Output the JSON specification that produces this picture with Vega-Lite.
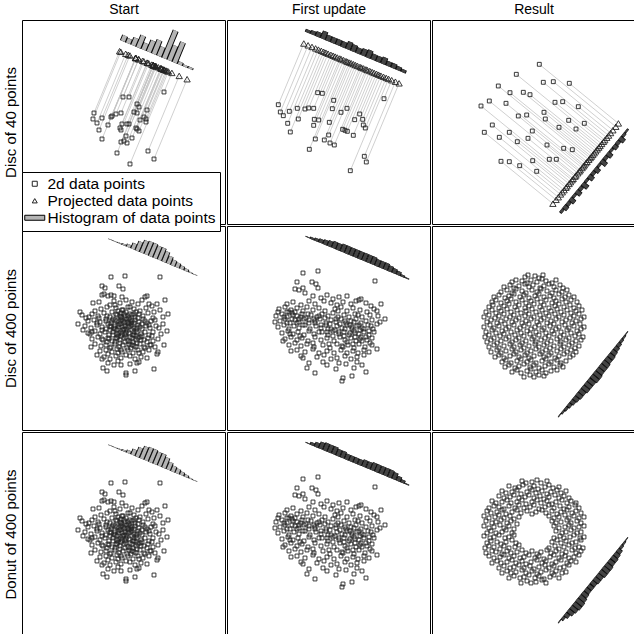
{
"$schema":"https://vega.github.io/schema/vega-lite/v6.json",
"padding":{"left":2,"top":1,"right":0,"bottom":0},
"spacing":0,
"config":{"font":"Liberation Sans","view":{"stroke":"black","strokeWidth":1},"concat":{"spacing":0},
"axis":{"domain":false,"ticks":false,"labels":false,"grid":false,"titleFontWeight":"normal","titleColor":"black"}},
"datasets":{
"S11":"x,y,px,py\n101,77,116.7,39.2\n107,77,121.8,41.3\n142,72,149.9,52.9\n115,84,131.1,45.1\n117,87,133.9,46.3\n112,92,131.5,45.3\n125,90,141.8,49.6\n115,93,134.2,46.4\n72,93,97.6,31.2\n71,99,98.8,31.8\n80,98,106.2,34.8\n75,103,103.7,33.8\n90,96,114.0,38.0\n94,94,116.7,39.2\n99,93,120.6,40.8\n89,97,113.5,37.9\n86,105,113.7,37.9\n100,104,125.5,42.8\n105,104,129.7,44.6\n107,104,131.4,45.2\n122,97,141.7,49.5\n124,99,144.0,50.5\n124,102,145.1,51.0\n77,110,107.9,35.5\n99,110,126.7,43.3\n114,108,138.8,48.3\n117,111,142.4,49.8\n115,109,140.0,48.8\n104,116,133.1,46.0\n80,119,113.6,37.9\n102,121,133.1,46.0\n99,122,130.9,45.1\n105,123,136.4,47.3\n95,133,131.5,45.3\n126,131,157.2,55.9\n132,139,165.1,59.2\n108,144,146.4,51.5\n98,108,125.1,42.6\n110,118,138.9,48.3\n118,100,139.3,48.5",
"H11":"x,y,x2,y2\n100.8,21.2,103.1,15.7\n106.0,23.4,107.9,18.8\n111.2,25.5,114.3,18.1\n116.3,27.7,121.3,15.7\n121.5,29.8,124.2,23.3\n126.7,31.9,131.3,20.8\n131.9,34.1,137.6,20.2\n137.0,36.2,140.8,27.0\n142.2,38.4,153.7,10.7\n147.4,40.5,153.5,25.7\n152.6,42.7,161.0,22.4\n157.7,44.8,158.9,42.0\n162.9,47.0,163.7,45.2\n168.1,49.1,168.9,47.3",
"S12":"x,y,px,py\n90.7,72.7,106.1,35.7\n95.3,73.3,110.3,37.5\n106.7,80.3,122.5,42.6\n157,78.7,164.7,60.2\n51.3,84.7,76.8,23.5\n53.3,92,81.1,25.3\n56.3,95.7,85.0,26.9\n62.3,91.3,88.6,28.4\n70.3,88.3,94.3,30.8\n78,89,101.1,33.7\n81.7,88,103.9,34.8\n86.7,88.3,108.2,36.6\n105.3,88.7,124.3,43.3\n114,92.3,133.0,46.9\n120,88.3,136.6,48.4\n132.7,94,149.5,53.8\n127.7,99.7,147.2,52.9\n135.7,99.3,153.9,55.7\n71.3,99,98.9,32.7\n87.3,99.3,112.8,38.5\n91.7,100,116.6,40.1\n102.3,102.3,126.5,44.2\n86.7,105.3,114.3,39.2\n60.7,103.3,91.4,29.6\n136.3,105,156.5,56.8\n138.3,108,159.2,57.9\n63.3,112,96.7,31.8\n115.7,109.3,140.4,50.1\n118,110.3,142.8,51.0\n120.3,111.3,145.1,52.0\n126.3,115.3,151.6,54.7\n101.7,115,130.5,45.9\n88.3,119,120.5,41.7\n97.3,120,128.5,45.1\n103,123,134.5,47.6\n107.3,125,138.9,49.4\n82.3,129.3,119.0,41.1\n137.3,136.3,168.4,61.7\n139.3,142,172.1,63.3\n123.3,150.7,161.6,58.9",
"H12":"x,y,x2,y2\n80.4,12.6,81.6,9.8\n85.5,14.7,87.0,11.0\n90.5,16.8,92.4,12.2\n95.6,18.9,98.7,11.5\n100.5,21.0,102.8,15.5\n105.6,23.1,107.9,17.6\n110.6,25.2,112.9,19.7\n115.7,27.3,118.0,21.8\n120.7,29.4,123.8,22.0\n125.7,31.5,128.4,25.0\n130.7,33.6,133.0,28.1\n135.8,35.7,138.5,29.2\n140.8,37.8,143.9,30.4\n145.9,39.9,148.2,34.4\n150.8,42.0,153.1,36.5\n155.9,44.1,158.6,37.6\n160.9,46.2,162.8,41.6\n166.0,48.3,167.9,43.7\n171.0,50.4,172.5,46.7\n176.0,52.5,177.2,49.7",
"S13":"x,y,px,py\n107.3,44.3,183.8,106.7\n84.3,54.3,169.7,123.9\n111.3,62.3,176.6,115.5\n121.3,61.7,180.9,110.2\n137.3,63.3,186.4,103.4\n66.3,66,156.8,139.7\n78,72.7,158.2,138.0\n91.3,72.3,163.7,131.3\n98,74.7,165.2,129.4\n49,86,140.1,160.2\n57.3,81,145.8,153.2\n74,83.3,151.4,146.4\n123,82.3,171.5,121.8\n130.7,81.7,174.8,117.7\n146.3,86.7,178.6,113.0\n86.3,96,150.1,148.0\n94.7,95,153.9,143.2\n112,92.3,162.2,133.2\n113.3,99,159.4,136.6\n136.7,100.3,168.1,125.9\n152.3,103.3,172.8,120.1\n60.3,105,135.2,166.2\n52.3,112.3,128.5,174.4\n77.3,112.3,138.5,162.1\n100.3,111,148.3,150.1\n127,107.3,160.8,134.9\n144,109,166.7,127.6\n67.3,117.3,132.1,170.1\n85.3,121.7,137.1,163.9\n96,118.3,143.0,156.6\n115,125,147.3,151.4\n131.7,128.3,152.4,145.1\n140.3,129.7,155.1,141.8\n69,141.3,120.9,183.7\n77.3,141.7,124.1,179.8\n87.7,145.7,126.3,177.2\n100.7,140.7,134.0,167.7\n117.3,139.3,141.2,158.8\n124.3,139.3,144.0,155.4\n104.7,151.3,130.3,172.2",
"H13":"x,y,x2,y2\n128.7,190.0,131.0,191.9\n131.8,186.1,135.7,189.3\n134.9,182.4,138.0,184.9\n138.0,178.6,142.7,182.4\n141.1,174.8,143.4,176.7\n144.2,171.0,148.9,174.8\n147.3,167.2,150.4,169.7\n150.4,163.4,155.8,167.8\n153.5,159.6,155.8,161.5\n156.6,155.8,161.3,159.6\n159.7,152.0,162.8,154.5\n162.8,148.2,167.4,152.0\n165.9,144.4,168.2,146.3\n169.0,140.6,174.4,145.0\n172.1,136.8,175.2,139.3\n175.2,133.0,179.8,136.8\n178.3,129.2,180.6,131.1\n181.4,125.4,185.3,128.6\n184.5,121.6,187.6,124.1\n187.6,117.8,192.3,121.6\n190.7,114.0,193.0,115.9\n193.8,110.2,195.4,111.5",
"H21":"x,y,x2,y2\n88.5,13.9,88.7,13.4\n93.0,15.8,93.2,15.3\n97.4,17.6,97.8,16.7\n101.8,19.4,102.4,18.0\n106.3,21.3,107.4,18.5\n110.7,23.1,113.0,17.6\n115.1,24.9,118.9,15.7\n119.6,26.8,124.6,14.8\n124.0,28.6,129.4,15.7\n128.4,30.5,133.8,17.6\n132.9,32.3,137.9,20.3\n137.3,34.1,142.3,22.1\n141.7,36.0,145.9,25.8\n146.2,37.8,149.3,30.4\n150.6,39.7,152.9,34.2\n155.0,41.5,156.9,36.9\n159.5,43.3,160.8,40.1\n163.9,45.2,164.9,42.9\n168.4,47.0,168.8,46.1\n172.8,48.9,173.0,48.4",
"H22":"x,y,x2,y2\n80.5,11.6,80.9,10.7\n84.8,13.4,85.6,11.6\n89.1,15.2,90.3,12.4\n93.4,16.9,94.9,13.2\n97.7,18.7,99.6,14.1\n102.0,20.5,104.3,15.0\n106.4,22.3,109.1,15.8\n110.6,24.1,113.3,17.6\n115.0,25.9,118.1,18.5\n119.3,27.7,122.4,20.3\n123.6,29.5,126.7,22.1\n127.9,31.3,131.0,23.9\n132.3,33.1,135.4,25.7\n136.5,34.8,139.6,27.4\n140.9,36.6,144.0,29.2\n145.2,38.4,148.3,31.0\n149.4,40.2,152.1,33.7\n153.8,42.0,156.5,35.5\n158.1,43.8,160.8,37.3\n162.4,45.6,164.7,40.1\n166.7,47.4,168.6,42.8\n171.1,49.2,172.6,45.5\n175.3,50.9,176.1,49.1\n179.7,52.7,180.1,51.8",
"H32":"x,y,x2,y2\n80.5,11.6,80.9,10.7\n84.8,13.4,85.9,10.6\n89.1,15.2,91.0,10.6\n93.4,16.9,96.1,10.4\n97.7,18.7,100.8,11.3\n102.0,20.5,105.1,13.1\n106.4,22.3,109.5,14.9\n110.6,24.1,113.3,17.6\n115.0,25.9,117.7,19.4\n119.3,27.7,121.6,22.2\n123.6,29.5,125.9,24.0\n127.9,31.3,130.2,25.8\n132.3,33.1,134.6,27.6\n136.5,34.8,139.2,28.3\n140.9,36.6,143.6,30.1\n145.2,38.4,148.3,31.0\n149.4,40.2,152.5,32.8\n153.8,42.0,156.9,34.6\n158.1,43.8,161.2,36.4\n162.4,45.6,165.5,38.2\n166.7,47.4,169.4,40.9\n171.1,49.2,173.0,44.6\n175.3,50.9,176.5,48.1\n179.7,52.7,180.1,51.8",
"H23":"x,y,x2,y2\n127.2,188.9,128.0,189.5\n130.1,185.4,131.7,186.7\n133.0,181.8,135.3,183.7\n135.9,178.2,139.0,180.7\n138.8,174.7,142.7,177.9\n141.7,171.1,146.4,174.9\n144.6,167.5,150.0,171.9\n147.5,164.0,152.9,168.4\n150.4,160.4,156.6,165.5\n153.4,156.8,159.6,161.9\n156.3,153.3,162.5,158.4\n159.2,149.7,166.2,155.4\n162.1,146.1,169.1,151.8\n165.0,142.6,171.2,147.7\n167.9,139.0,174.1,144.1\n170.8,135.4,177.0,140.5\n173.7,131.9,179.1,136.3\n176.7,128.3,182.1,132.7\n179.6,124.7,184.3,128.5\n182.5,121.2,186.4,124.4\n185.4,117.6,188.5,120.1\n188.3,114.0,190.6,115.9\n191.2,110.5,192.8,111.8\n194.1,106.9,194.9,107.5",
"H33":"x,y,x2,y2\n127.2,188.9,128.0,189.5\n130.1,185.4,132.4,187.3\n133.0,181.8,136.9,185.0\n135.9,178.2,141.3,182.6\n138.8,174.7,145.0,179.8\n141.7,171.1,148.7,176.8\n144.6,167.5,151.6,173.2\n147.5,164.0,153.7,169.1\n150.4,160.4,155.8,164.8\n153.4,156.8,158.1,160.6\n156.3,153.3,161.0,157.1\n159.2,149.7,163.9,153.5\n162.1,146.1,167.5,150.5\n165.0,142.6,170.4,147.0\n167.9,139.0,174.1,144.1\n170.8,135.4,177.0,140.5\n173.7,131.9,179.9,137.0\n176.7,128.3,182.1,132.7\n179.6,124.7,185.0,129.1\n182.5,121.2,187.2,125.0\n185.4,117.6,189.3,120.8\n188.3,114.0,190.6,115.9\n191.2,110.5,192.8,111.8\n194.1,106.9,194.9,107.5",
"A":"x,y\n89,51\n103,50\n138,51\n80,60\n83,62\n97,60\n101,63\n82,68\n89,69\n86,70\n80,69\n92,70\n100,71\n125,70\n123,71\n143,74\n71,77\n77,76\n135,78\n127,78\n58,86\n60,89\n64,92\n56,98\n61,104\n70,106\n68,108\n69,121\n75,129\n80,133\n81,142\n85,145\n99,139\n104,149\n104,147\n113,145\n115,137\n132,143\n125,132\n135,128\n142,119\n136,126\n145,105\n141,98\n137,102\n146,88\n141,91\n138,84\n132,86\n92,75\n98,77\n104,74\n110,76\n116,78\n88,79\n120,74\n79,83\n85,81\n94,82\n100,84\n106,81\n112,83\n118,85\n124,82\n130,80\n73,85\n90,86\n70,88\n76,90\n82,87\n88,91\n95,89\n99,87\n103,90\n108,88\n113,91\n117,88\n121,90\n126,87\n131,92\n67,91\n100,92\n66,95\n72,94\n78,96\n84,93\n89,97\n93,94\n97,96\n101,95\n105,93\n109,97\n113,94\n117,96\n121,93\n125,97\n129,95\n133,94\n86,98\n107,98\n63,100\n69,102\n75,99\n80,101\n84,103\n88,100\n92,102\n96,99\n100,101\n104,103\n108,100\n112,102\n116,99\n120,103\n124,100\n128,102\n134,100\n139,108\n95,104\n110,104\n66,107\n73,105\n78,108\n83,106\n87,109\n91,106\n95,108\n99,106\n103,109\n107,107\n111,109\n115,106\n119,108\n123,106\n127,109\n131,106\n99,110\n114,110\n70,113\n76,111\n81,114\n86,112\n90,115\n94,112\n98,114\n102,112\n106,115\n110,112\n114,114\n118,111\n122,114\n126,112\n131,115\n136,113\n85,116\n108,116\n73,118\n79,120\n84,119\n89,121\n93,118\n97,121\n101,119\n105,122\n110,119\n114,121\n118,118\n122,121\n128,119\n133,121\n78,125\n84,124\n90,126\n95,123\n100,126\n106,124\n111,127\n116,124\n121,126\n127,124\n86,128\n82,131\n88,133\n94,130\n99,132\n108,130\n113,133\n119,131\n96,135\n86,137\n92,139\n117,136\n108,138\n98,98\n102,97\n106,96\n101,104\n97,107\n105,105\n93,100\n110,95\n90,95\n103,100\n99,91\n107,92\n95,112\n104,111\n112,106\n88,104\n115,102\n96,85\n104,86\n112,88\n94,88\n98,90\n102,88\n106,90\n110,89\n91,93\n95,95\n99,94\n103,96\n108,94\n112,97\n116,92\n89,101\n93,103\n97,101\n102,103\n106,101\n110,99\n114,104\n118,101\n91,109\n96,110\n100,108\n104,107\n108,111\n112,109\n116,112\n120,110\n87,113\n93,116\n98,117\n103,116\n107,118\n111,116\n115,117\n119,114\n84,95\n80,104\n77,92\n123,95\n127,99\n125,116\n123,122\n88,122\n117,127\n104,129\n96,127\n109,122\n85,90\n120,98\n101,84\n93,79\n108,81\n114,86\n80,113\n75,97\n130,110\n129,119\n99,124\n112,120",
"B":"x,y\n76,47\n91,45\n70,56\n85,56\n89,58\n91,62\n148,55\n68,63\n72,64\n76,62\n78,67\n154,78\n158,93\n153,96\n150,123\n145,119\n139,146\n135,139\n127,142\n125,150\n116,152\n115,155\n109,143\n88,147\n80,142\n82,137\n76,132\n64,125\n56,115\n48,96\n51,86\n147,83\n134,73\n132,74\n129,75\n86,70\n94,72\n100,69\n106,73\n112,71\n120,70\n97,75\n60,78\n66,76\n74,79\n82,75\n88,78\n104,77\n110,79\n116,76\n124,78\n139,77\n144,80\n52,83\n58,81\n64,84\n70,82\n76,85\n80,81\n86,84\n92,82\n98,85\n108,83\n114,81\n120,85\n126,82\n133,84\n140,86\n150,85\n49,90\n55,88\n60,91\n65,87\n70,90\n75,88\n79,92\n84,89\n90,91\n95,88\n101,90\n106,87\n111,91\n117,89\n122,91\n128,88\n135,91\n143,89\n151,90\n53,95\n58,93\n63,97\n68,94\n72,96\n77,93\n82,97\n88,95\n93,93\n99,97\n104,94\n109,96\n114,93\n119,97\n124,95\n129,93\n134,97\n139,95\n145,94\n150,98\n51,101\n57,99\n62,103\n67,100\n72,102\n78,99\n83,103\n89,100\n94,102\n99,99\n104,103\n110,100\n115,102\n120,99\n125,103\n130,100\n135,102\n141,99\n146,103\n60,97\n108,104\n55,107\n61,105\n66,108\n71,106\n77,109\n82,105\n87,108\n95,106\n101,109\n106,105\n112,108\n117,106\n122,109\n127,105\n132,108\n137,106\n142,109\n147,106\n125,101\n58,113\n64,111\n70,114\n75,112\n81,115\n88,111\n94,114\n100,112\n107,115\n113,111\n118,114\n124,112\n129,115\n134,111\n140,114\n145,112\n120,116\n62,119\n68,117\n74,120\n80,118\n87,121\n96,119\n103,122\n110,118\n116,121\n121,119\n127,122\n132,118\n138,121\n143,117\n135,115\n70,124\n78,126\n86,123\n92,127\n100,125\n107,127\n114,124\n120,127\n126,125\n131,127\n137,124\n142,126\n74,130\n90,131\n97,129\n104,133\n118,130\n124,133\n130,131\n137,129\n110,132\n96,136\n112,137\n119,138\n130,136\n100,139\n66,89\n72,93\n62,86\n128,107\n133,104\n118,103\n101,103\n92,106\n60,86\n68,86\n74,91\n81,88\n87,93\n92,90\n98,92\n103,98\n109,93\n113,98\n118,95\n123,99\n127,96\n132,99\n137,103\n142,105\n128,111\n133,113\n123,107\n117,110\n112,106\n106,110\n100,106\n94,99\n88,97\n82,94\n76,99\n70,97\n65,93\n57,91\n63,108\n73,110\n86,117\n102,118\n115,120\n126,118\n139,111\n144,100\n131,89\n111,85",
"C":"x,y\n93,51\n96,49\n103,50\n107,52\n111,49\n80,56\n84,54\n90,55\n95,57\n99,54\n105,56\n110,53\n114,55\n120,57\n124,54\n72,61\n78,59\n82,62\n87,60\n93,58\n97,61\n101,59\n108,62\n112,60\n117,58\n122,61\n128,59\n131,62\n69,66\n75,64\n80,67\n84,63\n90,65\n94,67\n100,64\n105,66\n109,63\n115,65\n120,67\n124,64\n130,66\n135,64\n62,71\n67,69\n73,72\n77,70\n82,68\n88,71\n92,69\n97,72\n103,70\n107,68\n112,71\n118,70\n122,72\n127,68\n133,71\n137,69\n142,71\n60,76\n64,74\n69,77\n75,75\n79,73\n84,76\n90,74\n94,77\n99,75\n105,73\n109,76\n114,74\n120,77\n124,75\n130,73\n134,76\n139,74\n145,76\n57,81\n61,79\n67,82\n72,80\n77,78\n83,81\n87,79\n93,82\n97,80\n102,78\n108,81\n112,79\n117,82\n123,80\n127,78\n132,81\n138,79\n142,82\n147,80\n54,86\n60,84\n64,87\n69,85\n75,83\n79,86\n85,84\n89,87\n94,85\n100,83\n104,86\n110,84\n114,87\n119,85\n125,83\n129,86\n135,84\n139,87\n144,85\n150,84\n52,91\n57,89\n63,92\n67,90\n72,88\n78,91\n82,89\n87,92\n93,90\n97,88\n102,91\n108,89\n112,92\n117,90\n123,88\n127,91\n132,89\n138,92\n142,90\n147,88\n152,91\n55,96\n59,94\n65,97\n69,95\n74,93\n80,96\n84,94\n90,97\n94,95\n99,93\n105,96\n109,94\n115,97\n119,95\n124,93\n130,96\n134,94\n140,97\n144,95\n149,93\n52,101\n58,99\n62,102\n67,100\n73,98\n77,101\n82,99\n88,102\n92,100\n97,98\n103,101\n107,99\n112,102\n118,100\n122,98\n127,101\n133,99\n137,102\n142,100\n148,98\n152,101\n54,106\n60,104\n64,107\n70,105\n74,103\n79,106\n85,104\n89,107\n95,105\n99,103\n104,106\n110,104\n114,107\n120,105\n124,103\n129,106\n135,104\n139,107\n145,105\n149,103\n53,111\n57,109\n62,112\n68,110\n72,108\n77,111\n83,109\n87,112\n92,110\n98,108\n102,111\n107,109\n113,112\n117,110\n122,108\n128,111\n132,109\n137,112\n143,110\n147,108\n151,111\n55,116\n59,114\n65,117\n69,115\n74,113\n80,116\n84,114\n90,117\n94,115\n100,113\n104,116\n109,114\n115,117\n119,115\n125,113\n129,116\n134,114\n140,117\n144,115\n149,114\n57,121\n62,119\n67,122\n72,120\n78,118\n82,121\n88,119\n92,122\n97,120\n103,118\n107,121\n112,119\n118,122\n122,120\n128,118\n132,121\n137,119\n143,122\n147,120\n59,126\n65,124\n69,127\n74,125\n80,123\n84,126\n89,124\n95,127\n99,125\n104,123\n110,126\n114,124\n119,127\n125,125\n129,123\n135,126\n139,124\n144,126\n63,131\n67,129\n72,132\n78,130\n82,128\n87,131\n93,129\n97,132\n102,130\n108,128\n112,131\n117,129\n123,132\n127,130\n132,128\n138,131\n141,129\n70,136\n74,134\n79,137\n85,135\n89,133\n95,136\n99,134\n104,137\n110,135\n114,133\n119,136\n125,134\n129,137\n134,135\n73,141\n77,139\n83,142\n87,140\n92,138\n98,141\n102,139\n107,142\n113,140\n117,138\n122,141\n128,139\n131,141\n80,146\n85,144\n89,147\n95,145\n99,143\n104,146\n110,144\n114,147\n119,145\n125,144\n92,151\n98,149\n102,151\n107,149\n112,150",
"D":"x,y\n90,49\n94,51\n100,50\n105,48\n109,51\n115,49\n77,54\n83,56\n87,55\n91,53\n98,56\n102,54\n106,57\n113,55\n117,53\n121,56\n127,55\n70,59\n74,61\n80,60\n85,58\n89,62\n95,60\n100,58\n104,61\n110,59\n115,62\n119,60\n125,58\n129,61\n134,59\n67,64\n72,66\n78,65\n82,63\n87,66\n93,65\n97,63\n102,66\n108,64\n112,67\n117,65\n123,63\n127,66\n132,64\n137,66\n60,69\n64,71\n70,70\n75,68\n79,71\n85,70\n90,68\n94,72\n100,70\n105,68\n109,71\n115,69\n120,72\n124,70\n130,68\n135,71\n139,69\n144,71\n57,76\n62,74\n67,75\n72,77\n77,74\n83,76\n87,73\n92,76\n98,75\n102,73\n107,77\n113,75\n117,73\n122,76\n128,74\n132,77\n137,75\n143,73\n147,76\n55,79\n59,81\n65,80\n70,78\n74,82\n80,80\n85,78\n89,81\n95,79\n100,82\n104,80\n110,78\n114,81\n120,79\n125,82\n129,80\n135,78\n140,81\n144,79\n149,81\n52,84\n57,86\n63,85\n67,83\n72,86\n78,84\n82,87\n87,85\n117,84\n122,86\n127,85\n133,83\n137,86\n142,84\n147,86\n152,85\n54,89\n60,91\n64,90\n69,88\n75,91\n79,89\n85,92\n120,89\n124,91\n129,90\n135,88\n139,91\n145,89\n149,91\n52,94\n57,96\n62,95\n68,93\n72,96\n77,94\n82,97\n122,94\n127,96\n133,95\n137,93\n142,96\n147,95\n152,94\n55,101\n59,99\n64,101\n70,100\n74,98\n80,101\n124,99\n130,101\n134,100\n139,98\n145,101\n149,100\n52,104\n58,106\n62,105\n67,103\n73,106\n77,105\n82,103\n122,106\n128,104\n132,106\n138,105\n142,103\n148,106\n152,105\n55,111\n59,109\n65,110\n69,112\n74,110\n80,108\n84,111\n120,110\n125,108\n129,111\n134,109\n140,111\n144,110\n149,108\n53,116\n57,114\n62,115\n68,117\n72,114\n77,116\n83,115\n87,113\n117,116\n123,114\n127,117\n132,115\n137,113\n143,116\n147,115\n151,116\n54,121\n60,119\n64,120\n70,122\n75,119\n79,121\n85,120\n90,118\n94,121\n100,119\n105,122\n109,120\n115,118\n119,121\n124,119\n130,122\n134,120\n140,118\n144,121\n149,119\n57,124\n62,126\n68,125\n72,123\n77,126\n82,124\n88,126\n92,125\n97,123\n103,126\n107,124\n112,127\n118,125\n122,123\n127,126\n133,124\n137,126\n142,125\n147,123\n60,131\n65,129\n69,131\n75,130\n80,128\n84,131\n90,129\n94,132\n99,130\n105,128\n110,131\n114,129\n120,132\n124,130\n129,128\n135,131\n139,129\n144,130\n67,136\n72,134\n78,136\n82,135\n87,133\n92,136\n98,134\n102,137\n107,135\n113,133\n117,136\n122,134\n128,136\n132,135\n137,133\n70,141\n75,139\n79,141\n84,140\n90,138\n94,141\n100,139\n105,142\n109,140\n114,138\n120,141\n124,139\n130,141\n134,140\n77,146\n82,144\n88,146\n92,145\n97,143\n103,146\n107,144\n112,147\n118,145\n122,143\n127,146\n89,151\n95,149\n99,151\n104,150\n110,148\n114,151"
},
"vconcat":[
{"spacing":0,"hconcat":[
{"width":203,"height":204,
"data":{"name":"S11","format":{"type":"csv","parse":{"x":"number","y":"number","px":"number","py":"number"}}},
"encoding":{"x":{"field":"x","type":"quantitative","scale":{"domain":[0,203]},"axis":{"orient":"top","title":"Start","titleFontSize":14,"titlePadding":4}},
"y":{"field":"y","type":"quantitative","scale":{"domain":[0,204],"reverse":true},"axis":{"title":"Disc of 40 points","titleFontSize":15,"titlePadding":4}}},
"layer":[
{"mark":{"type":"rule","stroke":"#c4c4c4","strokeWidth":0.8},"encoding":{"x2":{"field":"px"},"y2":{"field":"py"}}},
{"mark":{"type":"point","filled":false,"size":15,"strokeWidth":0.9,"opacity":1},
"encoding":{"shape":{"datum":"2d data points","type":"nominal","scale":{"domain":["2d data points","Projected data points","Histogram of data points"],"range":["square","triangle-up","M-4,-1H4V1H-4Z"]},
"legend":{"orient":"none","legendX":0,"legendY":152,"title":null,"padding":4,"strokeColor":"black","fillColor":"white","labelFontSize":15.5,"labelColor":"black","labelLimit":0,"symbolSize":25,"symbolStrokeWidth":1,"symbolOffset":1,"labelOffset":5,"rowPadding":0}},
"fill":{"datum":"2d data points","type":"nominal","scale":{"domain":["2d data points","Projected data points","Histogram of data points"],"range":["transparent","transparent","#b4b4b4"]},
"legend":{"orient":"none","legendX":0,"legendY":152,"title":null,"padding":4,"strokeColor":"black","fillColor":"white","labelFontSize":15.5,"labelColor":"black","labelLimit":0,"symbolSize":25,"symbolStrokeWidth":1,"symbolOffset":1,"labelOffset":5,"rowPadding":0}},
"stroke":{"datum":"2d data points","type":"nominal","scale":{"domain":["2d data points","Projected data points","Histogram of data points"],"range":["#222222","#222222","#000000"]},
"legend":{"orient":"none","legendX":0,"legendY":152,"title":null,"padding":4,"strokeColor":"black","fillColor":"white","labelFontSize":15.5,"labelColor":"black","labelLimit":0,"symbolSize":25,"symbolStrokeWidth":1,"symbolOffset":1,"labelOffset":5,"rowPadding":0}}}},
{"mark":{"type":"point","filled":false,"size":40,"strokeWidth":0.9,"opacity":1},
"encoding":{"x":{"field":"px","type":"quantitative","scale":{"domain":[0,203]},"axis":{"orient":"top","title":"Start","titleFontSize":14,"titlePadding":4}},"y":{"field":"py","type":"quantitative","scale":{"domain":[0,204],"reverse":true},"axis":{"title":"Disc of 40 points","titleFontSize":15,"titlePadding":4}},"shape":{"datum":"Projected data points","type":"nominal"},"fill":{"datum":"Projected data points","type":"nominal"},"stroke":{"datum":"Projected data points","type":"nominal"}}},
{"data":{"name":"H11","format":{"type":"csv","parse":{"x":"number","y":"number","x2":"number","y2":"number"}}},"mark":{"type":"rule","stroke":"black","strokeWidth":6.2},"encoding":{"x2":{"field":"x2"},"y2":{"field":"y2"}}},
{"data":{"name":"H11","format":{"type":"csv","parse":{"x":"number","y":"number","x2":"number","y2":"number"}}},"mark":{"type":"rule","stroke":"#b4b4b4","strokeWidth":4.4},"encoding":{"x2":{"field":"x2"},"y2":{"field":"y2"}}}
]},
{"width":203,"height":204,
"data":{"name":"S12","format":{"type":"csv","parse":{"x":"number","y":"number","px":"number","py":"number"}}},
"encoding":{"x":{"field":"x","type":"quantitative","scale":{"domain":[0,203]},"axis":{"orient":"top","title":"First update","titleFontSize":14,"titlePadding":4}},
"y":{"field":"y","type":"quantitative","scale":{"domain":[0,204],"reverse":true},"axis":null}},
"layer":[
{"mark":{"type":"rule","stroke":"#c4c4c4","strokeWidth":0.8},"encoding":{"x2":{"field":"px"},"y2":{"field":"py"}}},
{"mark":{"type":"point","shape":"square","filled":false,"size":15,"stroke":"#222","strokeWidth":0.9,"opacity":1}},
{"mark":{"type":"point","shape":"triangle-up","filled":false,"size":40,"stroke":"#222","strokeWidth":0.9,"opacity":1},
"encoding":{"x":{"field":"px","type":"quantitative","scale":{"domain":[0,203]},"axis":{"orient":"top","title":"First update","titleFontSize":14,"titlePadding":4}},"y":{"field":"py","type":"quantitative","scale":{"domain":[0,204],"reverse":true},"axis":null}}},
{"data":{"name":"H12","format":{"type":"csv","parse":{"x":"number","y":"number","x2":"number","y2":"number"}}},"mark":{"type":"rule","stroke":"black","strokeWidth":5.8},"encoding":{"x2":{"field":"x2"},"y2":{"field":"y2"}}},
{"data":{"name":"H12","format":{"type":"csv","parse":{"x":"number","y":"number","x2":"number","y2":"number"}}},"mark":{"type":"rule","stroke":"#444444","strokeWidth":4.3},"encoding":{"x2":{"field":"x2"},"y2":{"field":"y2"}}}
]},
{"width":203,"height":204,
"data":{"name":"S13","format":{"type":"csv","parse":{"x":"number","y":"number","px":"number","py":"number"}}},
"encoding":{"x":{"field":"x","type":"quantitative","scale":{"domain":[0,203]},"axis":{"orient":"top","title":"Result","titleFontSize":14,"titlePadding":4}},
"y":{"field":"y","type":"quantitative","scale":{"domain":[0,204],"reverse":true},"axis":null}},
"layer":[
{"mark":{"type":"rule","stroke":"#c4c4c4","strokeWidth":0.8},"encoding":{"x2":{"field":"px"},"y2":{"field":"py"}}},
{"mark":{"type":"point","shape":"square","filled":false,"size":15,"stroke":"#222","strokeWidth":0.9,"opacity":1}},
{"mark":{"type":"point","shape":"triangle-up","filled":false,"size":40,"stroke":"#222","strokeWidth":0.9,"opacity":1},
"encoding":{"x":{"field":"px","type":"quantitative","scale":{"domain":[0,203]},"axis":{"orient":"top","title":"Result","titleFontSize":14,"titlePadding":4}},"y":{"field":"py","type":"quantitative","scale":{"domain":[0,204],"reverse":true},"axis":null}}},
{"data":{"name":"H13","format":{"type":"csv","parse":{"x":"number","y":"number","x2":"number","y2":"number"}}},"mark":{"type":"rule","stroke":"black","strokeWidth":5.2},"encoding":{"x2":{"field":"x2"},"y2":{"field":"y2"}}},
{"data":{"name":"H13","format":{"type":"csv","parse":{"x":"number","y":"number","x2":"number","y2":"number"}}},"mark":{"type":"rule","stroke":"#444444","strokeWidth":3.8},"encoding":{"x2":{"field":"x2"},"y2":{"field":"y2"}}}
]}
]},
{"spacing":0,"hconcat":[
{"width":203,"height":204,
"data":{"name":"A","format":{"type":"csv","parse":{"x":"number","y":"number"}}},
"encoding":{"x":{"field":"x","type":"quantitative","scale":{"domain":[0,203]},"axis":null},
"y":{"field":"y","type":"quantitative","scale":{"domain":[0,204],"reverse":true},"axis":{"title":"Disc of 400 points","titleFontSize":15,"titlePadding":4}}},
"layer":[
{"mark":{"type":"point","shape":"square","filled":false,"size":15,"stroke":"#222","strokeWidth":0.9,"opacity":1}},
{"data":{"name":"H21","format":{"type":"csv","parse":{"x":"number","y":"number","x2":"number","y2":"number"}}},"mark":{"type":"rule","stroke":"black","strokeWidth":5.2},"encoding":{"x2":{"field":"x2"},"y2":{"field":"y2"}}},
{"data":{"name":"H21","format":{"type":"csv","parse":{"x":"number","y":"number","x2":"number","y2":"number"}}},"mark":{"type":"rule","stroke":"#b4b4b4","strokeWidth":3.6},"encoding":{"x2":{"field":"x2"},"y2":{"field":"y2"}}}
]},
{"width":203,"height":204,
"data":{"name":"B","format":{"type":"csv","parse":{"x":"number","y":"number"}}},
"encoding":{"x":{"field":"x","type":"quantitative","scale":{"domain":[0,203]},"axis":null},
"y":{"field":"y","type":"quantitative","scale":{"domain":[0,204],"reverse":true},"axis":null}},
"layer":[
{"mark":{"type":"point","shape":"square","filled":false,"size":15,"stroke":"#222","strokeWidth":0.9,"opacity":1}},
{"data":{"name":"H22","format":{"type":"csv","parse":{"x":"number","y":"number","x2":"number","y2":"number"}}},"mark":{"type":"rule","stroke":"black","strokeWidth":5.0},"encoding":{"x2":{"field":"x2"},"y2":{"field":"y2"}}},
{"data":{"name":"H22","format":{"type":"csv","parse":{"x":"number","y":"number","x2":"number","y2":"number"}}},"mark":{"type":"rule","stroke":"#444444","strokeWidth":3.6},"encoding":{"x2":{"field":"x2"},"y2":{"field":"y2"}}}
]},
{"width":203,"height":204,
"data":{"name":"C","format":{"type":"csv","parse":{"x":"number","y":"number"}}},
"encoding":{"x":{"field":"x","type":"quantitative","scale":{"domain":[0,203]},"axis":null},
"y":{"field":"y","type":"quantitative","scale":{"domain":[0,204],"reverse":true},"axis":null}},
"layer":[
{"mark":{"type":"point","shape":"square","filled":false,"size":15,"stroke":"#222","strokeWidth":0.9,"opacity":1}},
{"data":{"name":"H23","format":{"type":"csv","parse":{"x":"number","y":"number","x2":"number","y2":"number"}}},"mark":{"type":"rule","stroke":"black","strokeWidth":5.0},"encoding":{"x2":{"field":"x2"},"y2":{"field":"y2"}}},
{"data":{"name":"H23","format":{"type":"csv","parse":{"x":"number","y":"number","x2":"number","y2":"number"}}},"mark":{"type":"rule","stroke":"#444444","strokeWidth":3.6},"encoding":{"x2":{"field":"x2"},"y2":{"field":"y2"}}}
]}
]},
{"spacing":0,"hconcat":[
{"width":203,"height":204,
"data":{"name":"A","format":{"type":"csv","parse":{"x":"number","y":"number"}}},
"encoding":{"x":{"field":"x","type":"quantitative","scale":{"domain":[0,203]},"axis":null},
"y":{"field":"y","type":"quantitative","scale":{"domain":[0,204],"reverse":true},"axis":{"title":"Donut of 400 points","titleFontSize":15,"titlePadding":4}}},
"layer":[
{"mark":{"type":"point","shape":"square","filled":false,"size":15,"stroke":"#222","strokeWidth":0.9,"opacity":1}},
{"data":{"name":"H21","format":{"type":"csv","parse":{"x":"number","y":"number","x2":"number","y2":"number"}}},"mark":{"type":"rule","stroke":"black","strokeWidth":5.2},"encoding":{"x2":{"field":"x2"},"y2":{"field":"y2"}}},
{"data":{"name":"H21","format":{"type":"csv","parse":{"x":"number","y":"number","x2":"number","y2":"number"}}},"mark":{"type":"rule","stroke":"#b4b4b4","strokeWidth":3.6},"encoding":{"x2":{"field":"x2"},"y2":{"field":"y2"}}}
]},
{"width":203,"height":204,
"data":{"name":"B","format":{"type":"csv","parse":{"x":"number","y":"number"}}},
"encoding":{"x":{"field":"x","type":"quantitative","scale":{"domain":[0,203]},"axis":null},
"y":{"field":"y","type":"quantitative","scale":{"domain":[0,204],"reverse":true},"axis":null}},
"layer":[
{"mark":{"type":"point","shape":"square","filled":false,"size":15,"stroke":"#222","strokeWidth":0.9,"opacity":1}},
{"data":{"name":"H32","format":{"type":"csv","parse":{"x":"number","y":"number","x2":"number","y2":"number"}}},"mark":{"type":"rule","stroke":"black","strokeWidth":5.0},"encoding":{"x2":{"field":"x2"},"y2":{"field":"y2"}}},
{"data":{"name":"H32","format":{"type":"csv","parse":{"x":"number","y":"number","x2":"number","y2":"number"}}},"mark":{"type":"rule","stroke":"#444444","strokeWidth":3.6},"encoding":{"x2":{"field":"x2"},"y2":{"field":"y2"}}}
]},
{"width":203,"height":204,
"data":{"name":"D","format":{"type":"csv","parse":{"x":"number","y":"number"}}},
"encoding":{"x":{"field":"x","type":"quantitative","scale":{"domain":[0,203]},"axis":null},
"y":{"field":"y","type":"quantitative","scale":{"domain":[0,204],"reverse":true},"axis":null}},
"layer":[
{"mark":{"type":"point","shape":"square","filled":false,"size":15,"stroke":"#222","strokeWidth":0.9,"opacity":1}},
{"data":{"name":"H33","format":{"type":"csv","parse":{"x":"number","y":"number","x2":"number","y2":"number"}}},"mark":{"type":"rule","stroke":"black","strokeWidth":5.0},"encoding":{"x2":{"field":"x2"},"y2":{"field":"y2"}}},
{"data":{"name":"H33","format":{"type":"csv","parse":{"x":"number","y":"number","x2":"number","y2":"number"}}},"mark":{"type":"rule","stroke":"#444444","strokeWidth":3.6},"encoding":{"x2":{"field":"x2"},"y2":{"field":"y2"}}}
]}
]}
]
}
